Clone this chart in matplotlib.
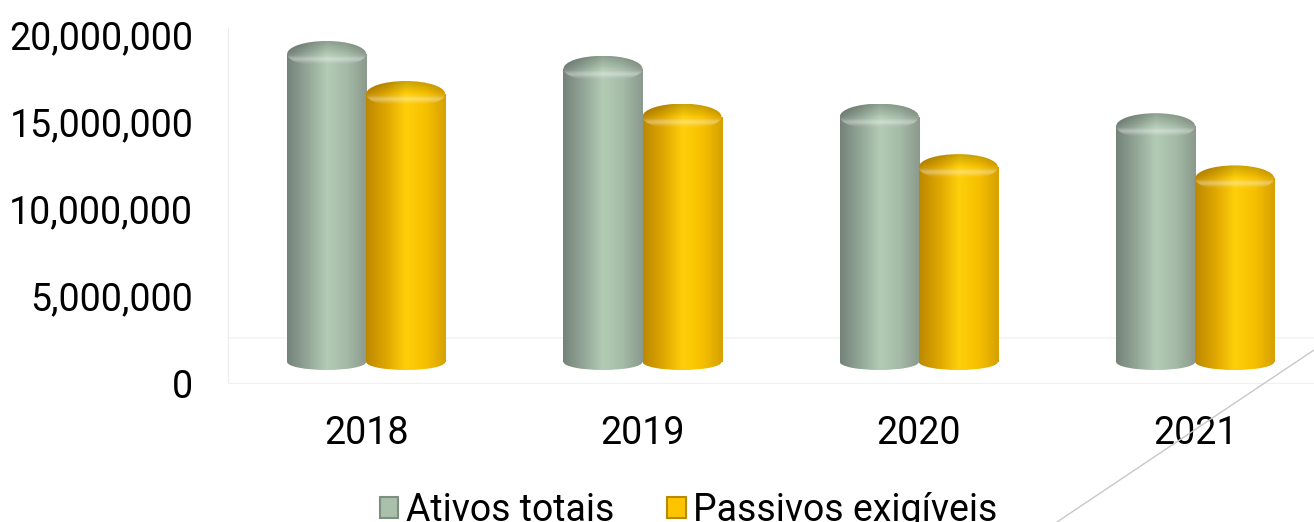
import numpy as np
import matplotlib.pyplot as plt
import matplotlib.transforms as mtransforms
from matplotlib.patches import Ellipse, Patch
from matplotlib.lines import Line2D
from matplotlib.colors import LinearSegmentedColormap

plt.rcParams['font.family'] = ['Roboto', 'DejaVu Sans']

# dados
anos = ['2018', '2019', '2020', '2021']
ativos = [17.7e6, 16.85e6, 14.1e6, 13.55e6]
passivos = [15.4e6, 14.1e6, 11.2e6, 10.55e6]
yticks = [0, 5e6, 10e6, 15e6, 20e6]
nomes = ['Ativos totais', 'Passivos exigíveis']

# cores do "cilindro": borda esq -> brilho -> borda dir
verde = ['#74837a', '#93a696', '#b3cbb5', '#a5baa7', '#8a9a8c']
amarelo = ['#bd8800', '#dea600', '#ffcf0a', '#f6c000', '#d6a000']

W, H = 1314, 522
fig = plt.figure(figsize=(W / 100, H / 100), dpi=100)
ax = fig.add_axes([228 / W, (H - 383) / H, (W - 228) / W, 355 / H])
ymax = 20.4e6
px_y = 355 / ymax  # pixels por unidade

# deslocamento de profundidade (efeito 3D)
prof = mtransforms.ScaledTranslation(0, 21 / 100, fig.dpi_scale_trans)
tr = ax.transData + prof

largura = 0.286
desl = 0.143
grad = np.linspace(0, 1, 256).reshape(1, -1)


def cilindro(xc, val, cores):
    cmap = LinearSegmentedColormap.from_list('c', cores)
    x0, x1 = xc - largura / 2, xc + largura / 2
    th = 13 / px_y  # meia altura da tampa
    bh = 8 / px_y   # meia altura da base
    # corpo
    b = ax.bar(xc, val, largura, color='none', edgecolor='none', transform=tr)[0]
    im = ax.imshow(grad, extent=(x0, x1, 0, val), aspect='auto', cmap=cmap,
                   transform=tr, zorder=2, interpolation='bilinear')
    im.set_clip_path(b)
    # base
    e = Ellipse((xc, 0), largura, 2 * bh, facecolor='none', edgecolor='none', transform=tr)
    ax.add_patch(e)
    im = ax.imshow(grad, extent=(x0, x1, -bh, bh), aspect='auto', cmap=cmap,
                   transform=tr, zorder=2, interpolation='bilinear')
    im.set_clip_path(e)
    # tampa arredondada
    base_rgb = cmap(np.linspace(0, 1, 128))[:, :3]
    v = np.linspace(1, 0, 40)  # de cima para baixo
    img = np.empty((40, 128, 3))
    for i, t in enumerate(v):
        if t > 0.55:
            f = 0.8 + 0.18 * (1 - t) / 0.45
            img[i] = base_rgb * f
        else:
            brilho = 0.35 * np.exp(-((t - 0.3) / 0.12) ** 2)
            img[i] = base_rgb + (1 - base_rgb) * brilho
    img = np.clip(img, 0, 1)
    e = Ellipse((xc, val), largura, 2 * th, facecolor='none', edgecolor='none', transform=tr)
    ax.add_patch(e)
    im = ax.imshow(img, extent=(x0, x1, val - th, val + th), aspect='auto',
                   transform=tr, zorder=3, interpolation='bilinear')
    im.set_clip_path(e)


x = np.arange(len(anos))
for i in range(len(anos)):
    cilindro(x[i] - desl, ativos[i], verde)
    cilindro(x[i] + desl, passivos[i], amarelo)

# parede / piso
fundo = ax.get_yaxis_transform() + mtransforms.ScaledTranslation(0, 45 / 100, fig.dpi_scale_trans)
ax.plot([0, 1], [0, 0], color='#f3f3f3', lw=1.2, transform=fundo, zorder=1, clip_on=False)
for s in ['top', 'right']:
    ax.spines[s].set_visible(False)
ax.spines['left'].set_color('#ececec')
ax.spines['bottom'].set_color('#f0f0f0')

ax.set_xlim(-0.5, 3.43)
ax.set_ylim(0, ymax)
ax.set_xticks(x)
ax.set_xticklabels(anos)
ax.set_yticks(yticks)
ax.set_yticklabels(['{:,.0f}'.format(v) for v in yticks])
ax.tick_params(axis='both', length=0, labelsize=27, colors='black')
ax.tick_params(axis='y', pad=25)
ax.tick_params(axis='x', pad=23)

handles = [Patch(facecolor='#a9c0ab', edgecolor='#7f8f81', lw=1.5),
           Patch(facecolor='#ffc400', edgecolor='#b88a00', lw=1.5)]
fig.legend(handles, nomes, loc='lower center', bbox_to_anchor=(0.524, -0.078), ncol=2,
           frameon=False, fontsize=27, handlelength=0.5, handleheight=0.5,
           handletextpad=0.2, columnspacing=1.4)

# linha decorativa diagonal
fig.add_artist(Line2D([1314 / W, 1057 / W], [(H - 350) / H, 0], color='#c8c8c8', lw=1,
                      transform=fig.transFigure))

fig.savefig('out.png', dpi=100)
